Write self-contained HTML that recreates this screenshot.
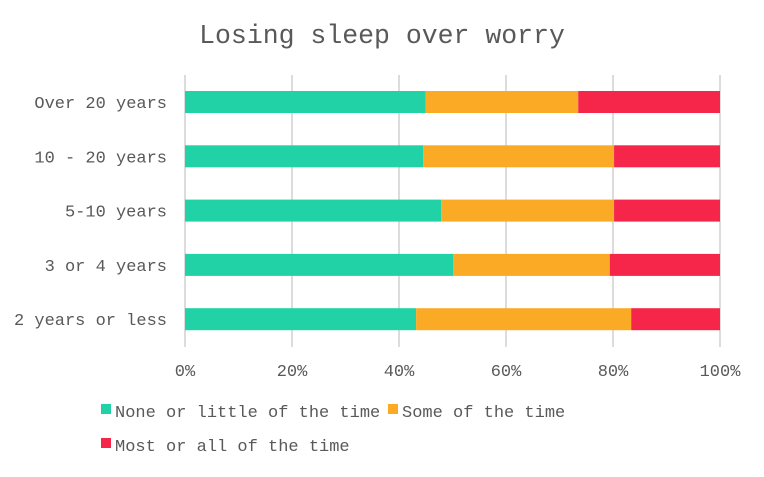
<!DOCTYPE html>
<html><head><meta charset="utf-8"><style>
body{margin:0;background:#fff;}
svg text{font-family:"Liberation Mono",monospace;fill:#595959;}
</style></head><body>
<svg width="764" height="472">
<rect width="764" height="472" fill="#fff"/>
<text x="382" y="43" font-size="26.5" text-anchor="middle">Losing sleep over worry</text>
<g id="grid"></g><g id="bars"></g><g id="labels"></g>
<g>
<rect x="101" y="404" width="10" height="10" fill="#20d2a6"/>
<text x="115" y="417" font-size="17">None or little of the time</text>
<rect x="388" y="404" width="10" height="10" fill="#fbaa25"/>
<text x="402" y="417" font-size="17">Some of the time</text>
<rect x="101" y="438" width="10" height="10" fill="#f6254a"/>
<text x="115" y="451" font-size="17">Most or all of the time</text>
</g>
</svg>
<script>
const categories=["Over 20 years","10 - 20 years","5-10 years","3 or 4 years","2 years or less"];
const noneVals=[45,44.5,47.9,50.1,43.2];
const someVals=[28.5,35.7,32.3,29.3,40.2];
const mostVals=[26.5,19.8,19.8,20.6,16.6];
const tickLabels=["0%","20%","40%","60%","80%","100%"];
const tickVals=[0,20,40,60,80,100];
const NS="http://www.w3.org/2000/svg";
const x0=185,x1=720;
const xs=v=>x0+(x1-x0)*v/100;
const ys=i=>102+i*54.3;
const grid=document.getElementById('grid'),bars=document.getElementById('bars'),labels=document.getElementById('labels');
function mk(tag,attrs,parent){const e=document.createElementNS(NS,tag);for(const k in attrs)e.setAttribute(k,attrs[k]);parent.appendChild(e);return e;}
tickVals.forEach((t,i)=>{
  const l=mk('line',{x1:xs(t),x2:xs(t),y1:75,y2:347,stroke:'#d0d0d0','stroke-width':1.5},grid);
  
  
  const tx=mk('text',{x:xs(t),y:376,'font-size':17,'text-anchor':'middle'},labels);
  tx.textContent=tickLabels[i];
  
  
});
const series=[[noneVals,'#20d2a6','none'],[someVals,'#fbaa25','some'],[mostVals,'#f6254a','most']];
categories.forEach((c,i)=>{
  let acc=0;const y=ys(i);
  series.forEach(([vals,col,nm])=>{
    const r=mk('rect',{x:xs(acc),y:y-11,width:xs(acc+vals[i])-xs(acc),height:22,fill:col},bars);
    
    
    acc+=vals[i];
  });
  const t=mk('text',{x:167,y:y+6,'font-size':17,'text-anchor':'end'},labels);
  t.textContent=c;
  
  
});
</script>
</body></html>
